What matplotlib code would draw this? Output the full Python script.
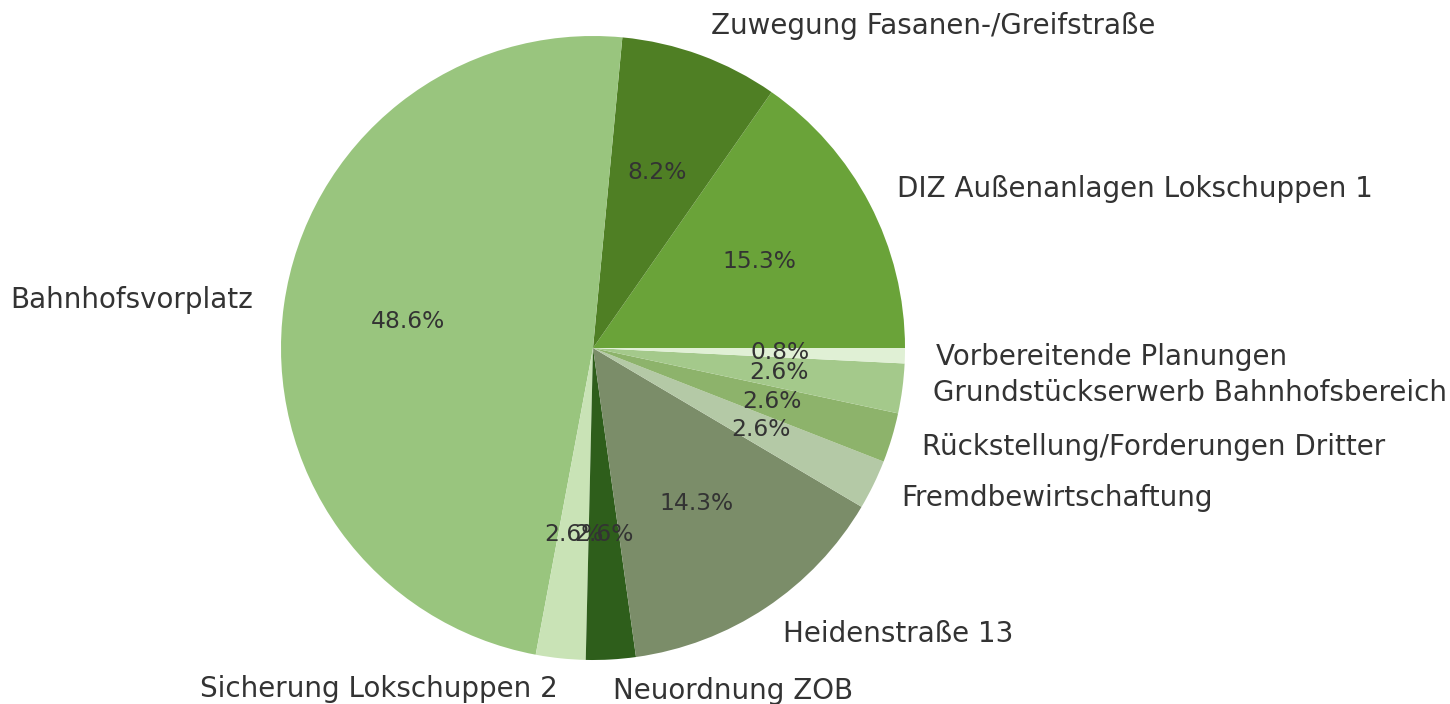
import matplotlib
matplotlib.use('Agg')
import matplotlib.pyplot as plt

# Kostenanteile (Prozent)
labels = [
    'DIZ Außenanlagen Lokschuppen 1',
    'Zuwegung Fasanen-/Greifstraße',
    'Bahnhofsvorplatz',
    'Sicherung Lokschuppen 2',
    'Neuordnung ZOB',
    'Heidenstraße 13',
    'Fremdbewirtschaftung',
    'Rückstellung/Forderungen Dritter',
    'Grundstückserwerb Bahnhofsbereich',
    'Vorbereitende Planungen',
]
values = [15.3, 8.2, 48.56, 2.57, 2.57, 14.3, 2.57, 2.57, 2.57, 0.79]
colors = ['#6aa339', '#4f7f24', '#99c57e', '#c9e3b6', '#2e5e1b',
          '#7b8d69', '#b4c9a6', '#8db36b', '#a4c98b', '#e0f0d5']

fig = plt.figure(figsize=(14.5, 7.04), dpi=100)
ax = fig.add_axes([0, 0, 1, 1])

wedges, texts, autotexts = ax.pie(
    values, labels=labels, colors=colors, autopct='%1.1f%%',
    startangle=0, labeldistance=1.1, pctdistance=0.6,
    textprops={'color': '#333333'},
)
for t in texts:
    t.set_fontsize(20)
for t in autotexts:
    t.set_fontsize(16.8)

# Kreis so legen, wie im Original (Mitte ~ (593, 348) px, Radius ~312 px)
r_px = 312.0
ax.set_aspect('auto')
ax.set_xlim(-593 / r_px, (1450 - 593) / r_px)
ax.set_ylim(-(704 - 348) / r_px, 348 / r_px)
ax.axis('off')

fig.savefig('out.png', dpi=100)
